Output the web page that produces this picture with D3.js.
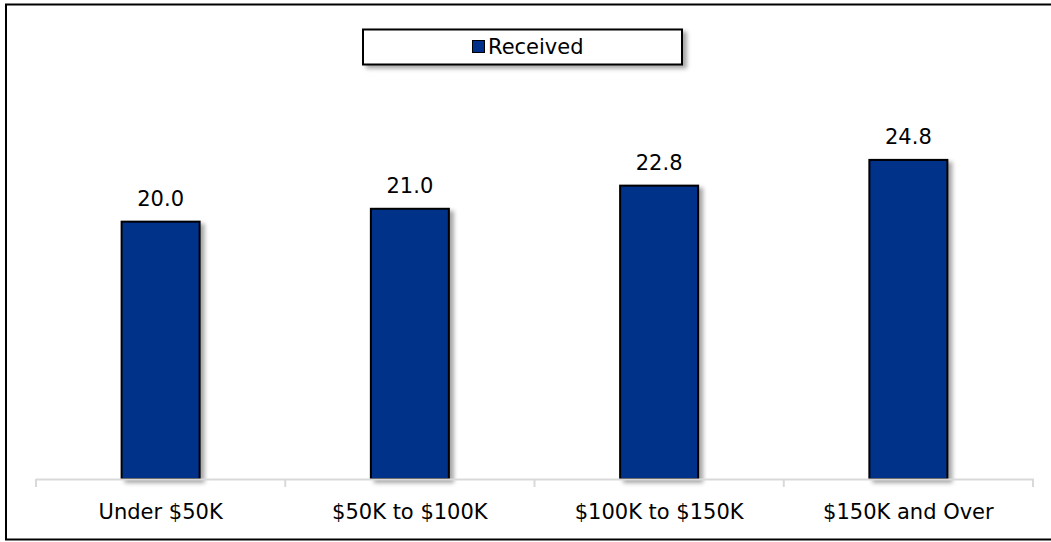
<!DOCTYPE html>
<html>
<head>
<meta charset="utf-8">
<script src="https://cdn.jsdelivr.net/npm/d3@7"></script>
<style>
  html, body { margin: 0; padding: 0; background: #fff; }
  svg { display: block; }
  text { font-family: "DejaVu Sans", sans-serif; fill: #000; }
</style>
</head>
<body>
<svg id="chart" width="1051" height="542"></svg>
<script>
// Income brackets and their received values
const categories = ["Under $50K", "$50K to $100K", "$100K to $150K", "$150K and Over"];
const received = [20.0, 21.0, 22.8, 24.8];
const seriesName = "Received";

const W = 1051, H = 542;
const plot = { left: 36, right: 1033, top: 93, bottom: 479 };
const barColor = "#00308a";

const svg = d3.select("#chart");

// soft grey shadow used on bars and legend box
const defs = svg.append("defs");
const f = defs.append("filter").attr("id", "shadow")
  .attr("x", "-20%").attr("y", "-20%").attr("width", "150%").attr("height", "150%");
f.append("feDropShadow").attr("dx", 4).attr("dy", 3).attr("stdDeviation", 2)
  .attr("flood-color", "#000").attr("flood-opacity", 0.35);

// outer frame
svg.append("rect")
  .attr("x", 6).attr("y", 4.5).attr("width", 1050).attr("height", 535)
  .attr("fill", "#fff").attr("stroke", "#000").attr("stroke-width", 2);

const x = d3.scaleBand().domain(categories).range([plot.left, plot.right])
  .paddingInner(0.687).paddingOuter(0.3435);
const y = d3.scaleLinear().domain([0, 30]).range([plot.bottom, plot.top]);

// bars
svg.append("g").selectAll("rect").data(received).join("rect")
  .attr("x", (d, i) => x(categories[i]))
  .attr("y", d => y(d))
  .attr("width", x.bandwidth())
  .attr("height", d => y(0) - y(d))
  .attr("fill", barColor)
  .attr("stroke", "#000").attr("stroke-width", 2)
  .attr("filter", "url(#shadow)");

// value labels
svg.append("g").selectAll("text").data(received).join("text")
  .attr("x", (d, i) => x(categories[i]) + x.bandwidth() / 2)
  .attr("y", d => y(d) - 16)
  .attr("text-anchor", "middle")
  .attr("font-size", 21)
  .text(d => d3.format(".1f")(d));

// category axis
const xBoundaries = d3.scaleBand().domain(categories).range([plot.left, plot.right]);
const axis = svg.append("g");
axis.append("line")
  .attr("x1", plot.left).attr("x2", plot.right + 1)
  .attr("y1", plot.bottom + 0.5).attr("y2", plot.bottom + 0.5)
  .attr("stroke", "#d9d9d9").attr("stroke-width", 2);
const tickXs = categories.map(c => xBoundaries(c)).concat([plot.right]);
axis.selectAll("line.tick").data(tickXs).join("line").attr("class", "tick")
  .attr("x1", d => d).attr("x2", d => d)
  .attr("y1", plot.bottom).attr("y2", plot.bottom + 8)
  .attr("stroke", "#d9d9d9").attr("stroke-width", 2);
axis.selectAll("text").data(categories).join("text")
  .attr("x", d => xBoundaries(d) + xBoundaries.bandwidth() / 2)
  .attr("y", 519)
  .attr("text-anchor", "middle")
  .attr("font-size", 21)
  .text(d => d);

// legend
const lg = svg.append("g");
lg.append("rect")
  .attr("x", 363).attr("y", 29.5).attr("width", 319).attr("height", 35)
  .attr("fill", "#fff").attr("stroke", "#000").attr("stroke-width", 2)
  .attr("filter", "url(#shadow)");
lg.append("rect")
  .attr("x", 472.5).attr("y", 40.5).attr("width", 12).attr("height", 12)
  .attr("fill", barColor).attr("stroke", "#000").attr("stroke-width", 1);
lg.append("text")
  .attr("x", 488).attr("y", 54)
  .attr("font-size", 21)
  .text(seriesName);
</script>
</body>
</html>
